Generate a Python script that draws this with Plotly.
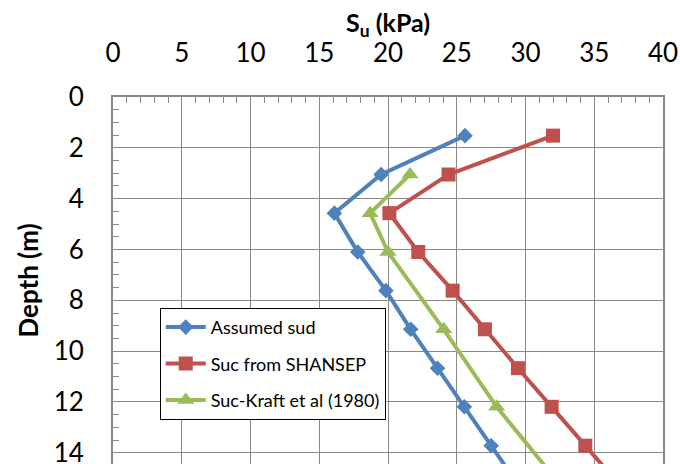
import plotly.graph_objects as go

# Depths (m) and undrained shear strengths (kPa)
depth = [1.52, 3.05, 4.57, 6.10, 7.62, 9.14, 10.67, 12.19, 13.72, 15.24]
assumed_sud = [25.6, 19.5, 16.1, 17.8, 19.85, 21.65, 23.6, 25.55, 27.5, 29.45]
suc_shansep = [32.0, 24.4, 20.1, 22.2, 24.7, 27.05, 29.45, 31.9, 34.35, 36.8]
kraft_depth = [3.05, 4.57, 6.10, 9.14, 12.19, 15.24]
suc_kraft = [21.6, 18.7, 20.0, 24.05, 27.9, 32.5]

x_ticks = [0, 5, 10, 15, 20, 25, 30, 35, 40]
y_ticks = [0, 2, 4, 6, 8, 10, 12, 14]

BLUE = "#4F81BD"
RED = "#C0504D"
GREEN = "#9BBB59"
GRID = "#898989"

fig = go.Figure()
fig.add_trace(go.Scatter(
    x=assumed_sud, y=depth, mode="lines+markers", name="Assumed sud",
    legendgroup="a",
    line=dict(color=BLUE, width=4),
    marker=dict(symbol="diamond", size=12, color=BLUE),
))
fig.add_trace(go.Scatter(
    x=suc_shansep, y=depth, mode="lines+markers", name="Suc from SHANSEP",
    legendgroup="b",
    line=dict(color=RED, width=4),
    marker=dict(symbol="square", size=14, color=RED),
))
fig.add_trace(go.Scatter(
    x=suc_kraft, y=kraft_depth, mode="lines+markers", name="Suc-Kraft et al (1980)",
    legendgroup="c",
    line=dict(color=GREEN, width=4),
    marker=dict(symbol="triangle-up", size=15, color=GREEN),
))

fig.update_layout(
    template="none",
    width=680, height=464,
    margin=dict(l=113, r=17, t=97, b=0, autoexpand=False),
    paper_bgcolor="white", plot_bgcolor="white",
    font=dict(family="Lato", color="black"),
    showlegend=True,
    legend=dict(
        x=0.085, y=0.4254, xanchor="left", yanchor="top",
        bordercolor="black", borderwidth=1, bgcolor="white",
        font=dict(size=18, family="Lato"),
        tracegroupgap=10, itemwidth=40,
    ),
    annotations=[dict(
        text="<b>S<sub>u</sub> (kPa)</b>", xref="paper", yref="paper",
        x=0.5, y=1, xanchor="center", yanchor="middle", yshift=73,
        showarrow=False, font=dict(size=25, family="Lato", color="black"),
    )],
)

fig.update_xaxes(
    side="top", range=[0, 40], tickmode="array", tickvals=x_ticks,
    ticktext=[str(v) for v in x_ticks], automargin=False,
    showgrid=True, gridcolor=GRID, gridwidth=1.3,
    showline=True, linecolor=GRID, linewidth=2,
    ticks="inside", ticklen=6, tickcolor=GRID,
    tickfont=dict(size=26), ticklabelstandoff=23, ticklabeloverflow="allow",
    minor=dict(dtick=1, tick0=0, ticks="inside", ticklen=6, tickcolor=GRID, showgrid=False),
    zeroline=False,
)
fig.update_yaxes(
    range=[14.44, 0], tickmode="array", tickvals=y_ticks,
    ticktext=[str(v) for v in y_ticks], automargin=False,
    showgrid=True, gridcolor=GRID, gridwidth=1.3,
    showline=True, linecolor=GRID, linewidth=2, mirror=True,
    ticks="inside", ticklen=6, tickcolor=GRID,
    tickfont=dict(size=26), ticklabelstandoff=22, ticklabeloverflow="allow",
    minor=dict(dtick=0.5, tick0=0, ticks="inside", ticklen=6, tickcolor=GRID, showgrid=False),
    zeroline=False,
    title=dict(text="<b>Depth (m)</b>", font=dict(size=26), standoff=8),
)

fig.write_html(
    "out.html",
    config={"displayModeBar": False},
    post_script="document.body.style.margin='0';document.body.style.overflow='hidden';",
)
